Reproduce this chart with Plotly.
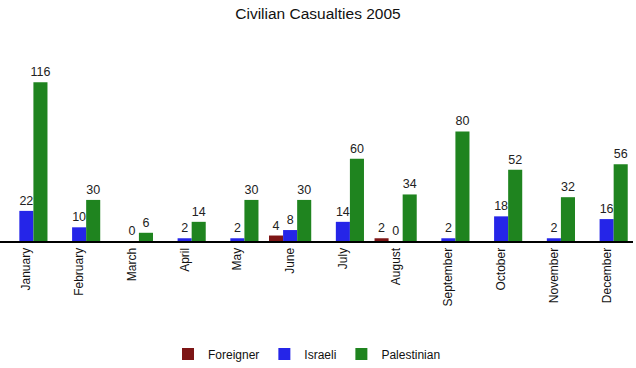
import plotly.graph_objects as go

months = ["January", "February", "March", "April", "May", "June", "July",
          "August", "September", "October", "November", "December"]
foreigner = [0, 0, 0, 0, 0, 4, 0, 2, 0, 0, 0, 0]
israeli = [22, 10, 0, 2, 2, 8, 14, 0, 2, 18, 2, 16]
palestinian = [116, 30, 6, 14, 30, 30, 60, 34, 80, 52, 32, 56]

font_family = "Arial, Liberation Sans, sans-serif"

def labels(vals, show_zero):
    return [str(v) if (v != 0 or show_zero) else "" for v in vals]

fig = go.Figure()
fig.add_trace(go.Bar(name="Foreigner", x=months, y=foreigner,
                     text=labels(foreigner, False), textposition="outside",
                     marker=dict(color="#7d1515", line=dict(width=0))))
fig.add_trace(go.Bar(name="Israeli", x=months, y=israeli,
                     text=labels(israeli, True), textposition="outside",
                     marker=dict(color="#2525e8", line=dict(width=0))))
fig.add_trace(go.Bar(name="Palestinian", x=months, y=palestinian,
                     text=labels(palestinian, True), textposition="outside",
                     marker=dict(color="#1f841f", line=dict(width=0))))

fig.update_traces(textfont=dict(family=font_family, size=12.5, color="#222222"),
                  cliponaxis=False, hoverinfo="skip", constraintext="none")

fig.update_layout(
    width=636, height=368,
    margin=dict(l=0, r=3, t=50, b=127, autoexpand=False),
    paper_bgcolor="white", plot_bgcolor="white",
    barmode="group", bargap=0.2, bargroupgap=0,
    font=dict(family=font_family, size=12, color="#222222"),
    title=dict(text="Civilian Casualties 2005", x=0.5, xanchor="center",
               y=1 - 14 / 368, yanchor="middle",
               font=dict(family=font_family, size=15.5, color="#111111")),
    xaxis=dict(tickangle=-90, showline=True, linecolor="black", linewidth=2,
               showgrid=False, ticks="", automargin=False, range=[-0.5, 11.5],
               tickfont=dict(size=12, color="#111111")),
    yaxis=dict(range=[0, 139.5], visible=False, showgrid=False, zeroline=False,
               automargin=False),
    showlegend=True,
    legend=dict(orientation="h", x=0.485, xanchor="center",
                y=-(354 - 241) / 191, yanchor="middle",
                font=dict(size=12, color="#111111"), traceorder="normal"),
)

fig.write_html("out.html",
               config={"displayModeBar": False, "staticPlot": True},
               post_script="document.body.style.margin='0';document.body.style.padding='0';")
